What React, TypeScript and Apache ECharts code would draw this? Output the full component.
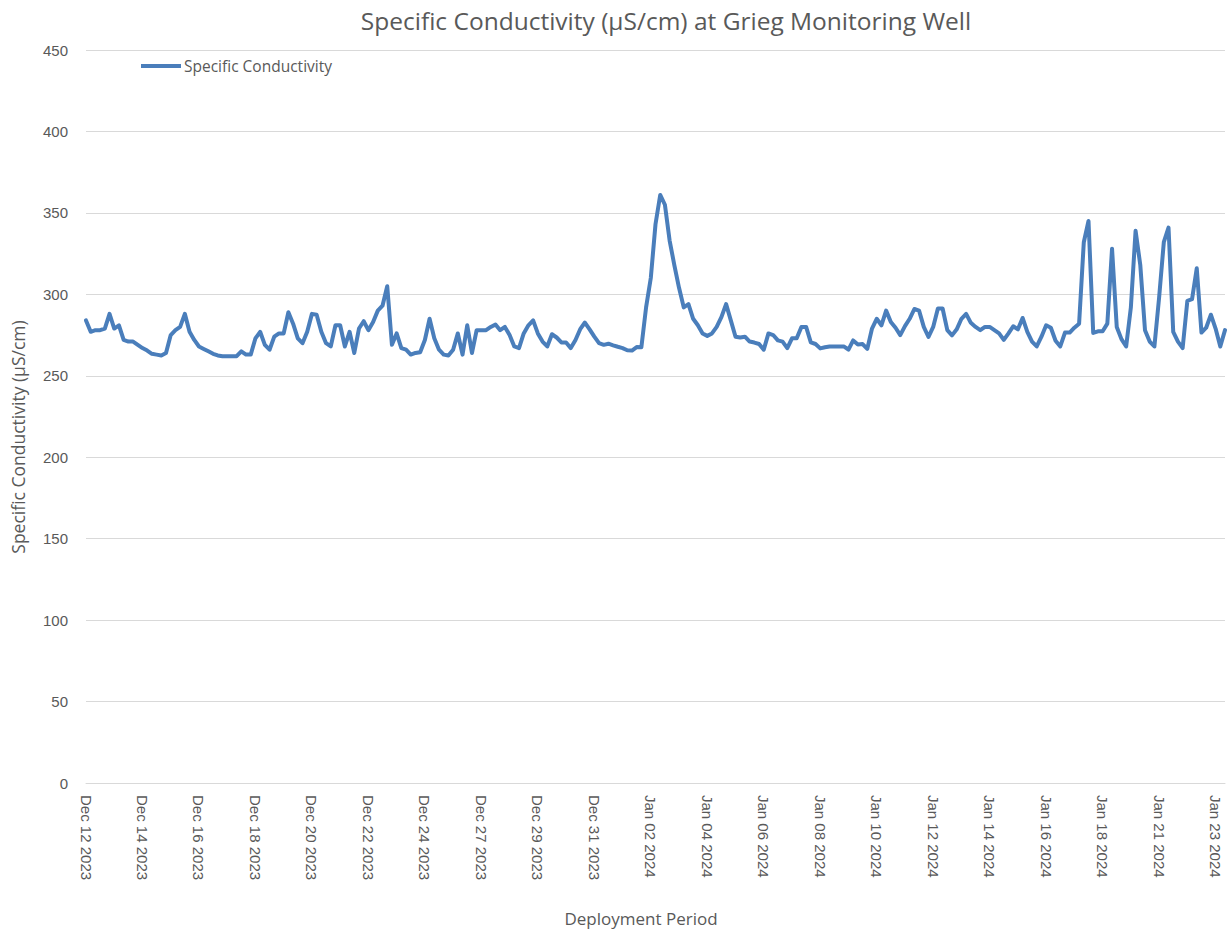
import React, { useEffect, useRef } from "react";
import * as echarts from "echarts";

const TITLE = "Specific Conductivity (µS/cm) at Grieg Monitoring Well";
const SERIES_NAME = "Specific Conductivity";
const Y_NAME = "Specific Conductivity (µS/cm)";
const X_NAME = "Deployment Period";

const tickLabels = [
  "Dec 12 2023", "Dec 14 2023", "Dec 16 2023", "Dec 18 2023", "Dec 20 2023",
  "Dec 22 2023", "Dec 24 2023", "Dec 27 2023", "Dec 29 2023", "Dec 31 2023",
  "Jan 02 2024", "Jan 04 2024", "Jan 06 2024", "Jan 08 2024", "Jan 10 2024",
  "Jan 12 2024", "Jan 14 2024", "Jan 16 2024", "Jan 18 2024", "Jan 21 2024",
  "Jan 23 2024",
];
const POINTS_PER_TICK = 12;

const conductivity = [
  284, 277, 278, 278, 279, 288, 279, 281, 272, 271, 271, 269,
  267, 265.5, 263.5, 263, 262.5, 264, 275, 278, 280, 288, 277, 272,
  268, 266.5, 265, 263.5, 262.5, 262, 262, 262, 262, 265, 263, 263,
  273, 277, 269, 266, 274, 276, 276, 289, 282, 273, 270, 277,
  288, 287.5, 277, 270, 268, 281, 281, 268, 277, 264, 279, 283.5,
  278, 283, 290, 293, 305, 269, 276, 267, 266, 263, 264, 264.5,
  272, 285, 273, 266, 263, 262.5, 266, 276, 263, 281, 264, 278,
  278, 278, 280, 281.5, 278, 280, 275, 268, 267, 276, 281, 284,
  276, 271, 268, 275.5, 273.5, 270.5, 270.4, 267, 272, 278.6, 282.7, 278.5,
  274, 270, 269, 269.7, 268.7, 267.8, 267, 265.7, 265.5, 267.6, 267.5, 292,
  310, 343, 361, 355, 333, 318, 304, 292, 294, 285, 281, 276,
  274.5, 276, 280, 286, 294, 284, 274, 273.5, 274, 271, 270.4, 269.5,
  266, 276, 275, 271.7, 271, 267, 273, 273, 280, 280, 270.5, 269.5,
  266.8, 267.5, 268, 268, 268, 268, 266, 271.7, 269.2, 269.5, 266.5, 279,
  285, 281, 290, 283, 279.5, 275, 280.5, 285, 291, 290, 280, 273.8,
  280, 291.3, 291.3, 278, 274.8, 278.5, 285, 288, 282.5, 280, 278, 280,
  280, 278, 276, 272, 276, 280.4, 278.5, 285.5, 277, 271, 268, 274,
  281, 279.5, 271.5, 268, 276.5, 276.5, 279.5, 282, 332, 345, 276.3, 277.3,
  277.3, 282, 328, 280, 272.5, 268, 292, 339, 318, 278, 271, 268,
  298, 332, 341, 277, 271, 267, 296, 297, 316, 276.5, 279.5, 287.5,
  279, 268, 278,
];

const yMin = 0;
const yMax = 450;
const yStep = 50;

export default function App() {
  const ref = useRef<HTMLDivElement>(null);

  useEffect(() => {
    if (!ref.current) return;
    const chart = echarts.init(ref.current, undefined, { renderer: "svg" });
    const categories = conductivity.map((_, i) => String(i));
    const textColor = "#595959";
    const gridColor = "#d9d9d9";
    const nameFont = "Open Sans";

    chart.setOption({
      animation: false,
      backgroundColor: "#ffffff",
      title: {
        text: TITLE,
        left: 661,
        top: 3,
        textAlign: "center",
        textStyle: {
          fontFamily: nameFont,
          fontSize: 24.5,
          fontWeight: "normal",
          color: textColor,
        },
      },
      legend: {
        data: [SERIES_NAME],
        left: 141,
        top: 58,
        padding: 0,
        icon: "rect",
        itemWidth: 40,
        itemHeight: 4,
        textStyle: {
          fontFamily: nameFont,
          fontSize: 15.5,
          color: textColor,
          padding: [0, 0, 0, -2],
        },
      },
      grid: {
        left: 86,
        right: 2,
        top: 50,
        bottom: 149,
        containLabel: false,
        outerBoundsMode: "none",
      },
      graphic: [
        {
          type: "text",
          x: 18,
          y: 437,
          rotation: Math.PI / 2,
          style: {
            text: Y_NAME,
            fontFamily: nameFont,
            fontSize: 17.5,
            fill: textColor,
            textAlign: "center",
            textVerticalAlign: "middle",
          },
        },
        {
          type: "text",
          x: 641,
          y: 918,
          style: {
            text: X_NAME,
            fontFamily: nameFont,
            fontSize: 17,
            fill: textColor,
            textAlign: "center",
            textVerticalAlign: "middle",
          },
        },
      ],
      xAxis: {
        type: "category",
        data: categories,
        boundaryGap: false,
        axisLine: { show: true, lineStyle: { color: gridColor, width: 1 } },
        axisTick: { show: false },
        splitLine: { show: false },
        axisLabel: {
          interval: POINTS_PER_TICK - 1,
          rotate: -90,
          margin: 12,
          fontFamily: "Liberation Sans",
          fontSize: 15,
          color: textColor,
          formatter: (_v: string, idx: number) =>
            idx % POINTS_PER_TICK === 0 ? tickLabels[idx / POINTS_PER_TICK] ?? "" : "",
        },
      },
      yAxis: {
        type: "value",
        min: yMin,
        max: yMax,
        interval: yStep,
        axisLine: { show: false },
        axisTick: { show: false },
        splitLine: { show: true, lineStyle: { color: gridColor, width: 1 } },
        axisLabel: {
          margin: 18,
          fontFamily: "Liberation Sans",
          fontSize: 15,
          color: textColor,
        },
      },
      series: [
        {
          name: SERIES_NAME,
          type: "line",
          data: conductivity,
          showSymbol: false,
          symbol: "none",
          smooth: false,
          lineStyle: { color: "#4a7ebb", width: 4, join: "round", cap: "round" },
          itemStyle: { color: "#4a7ebb" },
        },
      ],
    });

    return () => chart.dispose();
  }, []);

  return (
    <div
      ref={ref}
      style={{ position: "fixed", left: 0, top: 0, width: 1227, height: 932, background: "#fff" }}
    />
  );
}
